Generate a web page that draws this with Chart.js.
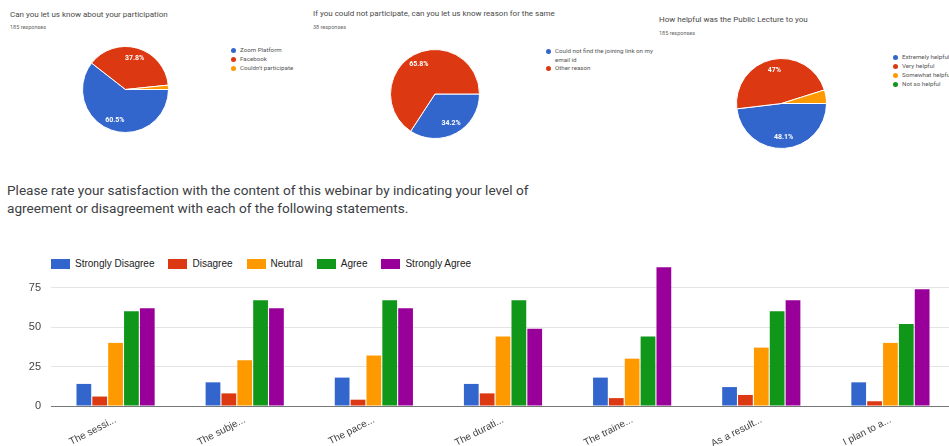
<!DOCTYPE html>
<html>
<head>
<meta charset="utf-8">
<script src="https://cdn.jsdelivr.net/npm/chart.js@4.4.1/dist/chart.umd.min.js"></script>
<style>
  html, body { margin: 0; padding: 0; background: #fff; }
  #page { position: relative; width: 949px; height: 446px; overflow: hidden; font-family: Roboto, Arial, sans-serif; }
  .abs { position: absolute; white-space: nowrap; }
  .q-title { font-size: 8px; line-height: 10px; color: #4a4a4a; }
  .q-count { font-size: 5.5px; line-height: 7px; color: #666; }
  .pie-legend { position: absolute; font-size: 6.2px; line-height: 9px; color: #555; white-space: nowrap; }
  .pie-legend .item { position: relative; padding-left: 9px; }
  .pie-legend .dot { position: absolute; left: 0; top: 2px; width: 5px; height: 5px; border-radius: 50%; }
  #heading { left: 7px; top: 181px; font-size: 13.6px; line-height: 18px; color: #3c4043; }
  #bar-legend { position: absolute; left: 51px; top: 258px; display: flex; gap: 14px; font-family: 'Liberation Sans', Arial, sans-serif; font-size: 10px; color: #222; line-height: 12px; }
  #bar-legend .item { display: flex; align-items: center; }
  #bar-legend .box { width: 19px; height: 10px; margin-right: 5px; }
  canvas { position: absolute; }
</style>
</head>
<body>
<div id="page">
  <div class="abs q-title" style="left:10px; top:10px;">Can you let us know about your participation</div>
  <div class="abs q-count" style="left:10px; top:24px;">185 responses</div>
  <canvas id="pie-participation" width="87" height="87" style="left:82px; top:46px;"></canvas>
  <div class="pie-legend" id="lg-participation" style="left:231px; top:46px;"></div>

  <div class="abs q-title" style="left:313px; top:9px;">If you could not participate, can you let us know reason for the same</div>
  <div class="abs q-count" style="left:313px; top:24px;">38 responses</div>
  <canvas id="pie-reason" width="90" height="90" style="left:390px; top:49px;"></canvas>
  <div class="pie-legend" id="lg-reason" style="left:546px; top:47px; width:114px; white-space:normal; line-height:8.5px;"></div>

  <div class="abs q-title" style="left:659px; top:15px;">How helpful was the Public Lecture to you</div>
  <div class="abs q-count" style="left:659px; top:30px;">185 responses</div>
  <canvas id="pie-helpful" width="91" height="91" style="left:736px; top:58px;"></canvas>
  <div class="pie-legend" id="lg-helpful" style="left:893px; top:53px;"></div>

  <div class="abs" id="heading">Please rate your satisfaction with the content of this webinar by indicating your level of<br>agreement or disagreement with each of the following statements.</div>

  <div id="bar-legend"></div>
  <canvas id="bars" width="956" height="206" style="left:0; top:240px;"></canvas>
</div>
<script>
Chart.defaults.font.family = "'Liberation Sans', Arial, sans-serif";

const PALETTE = ['#3366cc', '#dc3912', '#ff9900', '#109618', '#990099'];

// top row: three pies
const participationLabels = ['Zoom Platform', 'Facebook', "Couldn't participate"];
const participationValues = [112, 70, 3];

const reasonLabels = ['Could not find the joining link on my email id', 'Other reason'];
const reasonValues = [13, 25];

const helpfulLabels = ['Extremely helpful', 'Very helpful', 'Somewhat helpful', 'Not so helpful'];
const helpfulValues = [89, 87, 9, 0];

// bottom: rating statements
const statements = ['The sessi...', 'The subje...', 'The pace...', 'The durati...', 'The traine...', 'As a result...', 'I plan to a...'];
const ratingNames = ['Strongly Disagree', 'Disagree', 'Neutral', 'Agree', 'Strongly Agree'];
const stronglyDisagree = [14, 15, 18, 14, 18, 12, 15];
const disagree = [6, 8, 4, 8, 5, 7, 3];
const neutral = [40, 29, 32, 44, 30, 37, 40];
const agree = [60, 67, 67, 67, 44, 60, 52];
const stronglyAgree = [62, 62, 62, 49, 88, 67, 74];
const yTicks = [0, 25, 50, 75];

function pctText(share) {
  let s = (share * 100).toFixed(1);
  if (s.endsWith('.0')) s = s.slice(0, -2);
  return s + '%';
}

const sliceLabels = {
  id: 'sliceLabels',
  afterDatasetsDraw(chart) {
    const ctx = chart.ctx;
    const values = chart.data.datasets[0].data;
    const total = values.reduce((a, b) => a + b, 0);
    const meta = chart.getDatasetMeta(0);
    ctx.save();
    ctx.fillStyle = '#fff';
    ctx.font = 'bold 7px Roboto, Arial, sans-serif';
    ctx.textAlign = 'center';
    ctx.textBaseline = 'middle';
    meta.data.forEach((arc, i) => {
      const share = values[i] / total;
      if (share < 0.05) return;
      const p = arc.getProps(['x', 'y', 'startAngle', 'endAngle', 'outerRadius'], true);
      const mid = (p.startAngle + p.endAngle) / 2;
      const r = p.outerRadius * 0.76;
      ctx.fillText(pctText(share), p.x + Math.cos(mid) * r, p.y + Math.sin(mid) * r);
    });
    ctx.restore();
  },
};

function drawPie(id, labels, values) {
  new Chart(document.getElementById(id), {
    type: 'pie',
    data: {
      labels,
      datasets: [{
        data: values,
        backgroundColor: PALETTE.slice(0, values.length),
        borderColor: '#fff',
        borderWidth: 1,
      }],
    },
    options: {
      responsive: false,
      animation: false,
      rotation: 90,
      layout: { padding: 0 },
      plugins: { legend: { display: false }, tooltip: { enabled: false } },
    },
    plugins: [sliceLabels],
  });
}

function pieLegend(id, labels) {
  const wrap = document.getElementById(id);
  labels.forEach((label, i) => {
    const item = document.createElement('div');
    item.className = 'item';
    item.innerHTML = `<span class="dot" style="background:${PALETTE[i]}"></span>${label}`;
    wrap.appendChild(item);
  });
}

function barLegend() {
  const wrap = document.getElementById('bar-legend');
  ratingNames.forEach((name, i) => {
    const item = document.createElement('div');
    item.className = 'item';
    item.innerHTML = `<span class="box" style="background:${PALETTE[i]}"></span>${name}`;
    wrap.appendChild(item);
  });
}

function drawBars() {
  const series = [stronglyDisagree, disagree, neutral, agree, stronglyAgree];
  new Chart(document.getElementById('bars'), {
    type: 'bar',
    data: {
      labels: statements,
      datasets: ratingNames.map((name, i) => ({
        label: name,
        data: series[i],
        backgroundColor: PALETTE[i],
        borderWidth: 0,
        barPercentage: 0.93,
        categoryPercentage: 0.614,
      })),
    },
    options: {
      responsive: false,
      animation: false,
      layout: { padding: { top: 24, right: 1, bottom: 0, left: 0 } },
      plugins: { legend: { display: false }, tooltip: { enabled: false } },
      scales: {
        x: {
          grid: { display: false, drawTicks: false },
          border: { display: false },
          ticks: { autoSkip: false, minRotation: 27, maxRotation: 27, padding: 8, color: '#444', font: { size: 10 } },
          afterFit: (s) => { s.height = 40; },
        },
        y: {
          min: 0,
          max: 90,
          ticks: { padding: 10, color: '#444', font: { size: 11 } },
          afterBuildTicks: (s) => { s.ticks = yTicks.map((v) => ({ value: v })); },
          grid: { drawTicks: false, color: (c) => (c.tick && c.tick.value === 0 ? '#777' : '#e4e4e4') },
          border: { display: false },
          afterFit: (s) => { s.width = 51; },
        },
      },
    },
  });
}

drawPie('pie-participation', participationLabels, participationValues);
drawPie('pie-reason', reasonLabels, reasonValues);
drawPie('pie-helpful', helpfulLabels, helpfulValues);
pieLegend('lg-participation', participationLabels);
pieLegend('lg-reason', reasonLabels);
pieLegend('lg-helpful', helpfulLabels);
barLegend();
drawBars();
</script>
</body>
</html>
